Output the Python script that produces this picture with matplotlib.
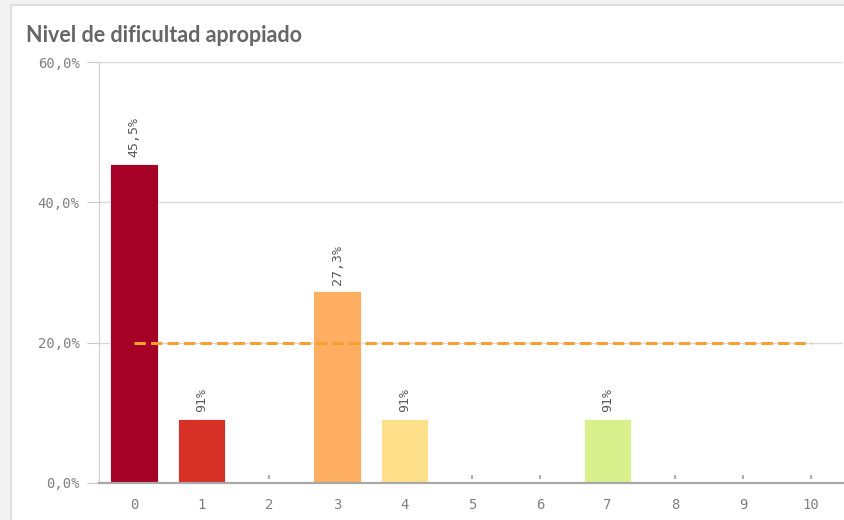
import matplotlib.pyplot as plt
from matplotlib.patches import Rectangle
from matplotlib.ticker import FuncFormatter
from matplotlib.transforms import offset_copy

# Data
categories = list(range(11))
values = [45.5, 9.1, 0, 27.3, 9.1, 0, 0, 9.1, 0, 0, 0]
bar_labels = ["45,5%", "91%", "", "27,3%", "91%", "", "", "91%", "", "", ""]
bar_colors = ["#a50026", "#d73027", "#f46d43", "#fdae61", "#fee08b",
              "#ffffbf", "#d9ef8b", "#d9ef8b", "#a6d96a", "#66bd63", "#1a9850"]
reference_value = 20.0
y_ticks = [0, 20, 40, 60]

mono = "DejaVu Sans Mono"
grey_text = "#808080"

fig = plt.figure(figsize=(8.45, 5.2), dpi=100)
fig.patch.set_facecolor("#f2f2f2")

# white card behind the chart
card = Rectangle((11 / 845, -0.05), 1.0, 1.05 - 5 / 520, transform=fig.transFigure,
                 facecolor="white", edgecolor="#dadada", linewidth=1.2, zorder=0)
fig.patches.append(card)

fig.text(26 / 845, 1 - 35 / 520, "Nivel de dificultad apropiado", fontsize=15.5,
         fontweight="bold", color="#666666", family="Lato", va="center", ha="left",
         zorder=2)

ax = fig.add_axes([99 / 845, 1 - 483 / 520, (843 - 99) / 845, (483 - 62) / 520])
ax.set_zorder(1)
ax.set_facecolor("none")

bars = ax.bar(categories, values, width=0.7, color=bar_colors,
              edgecolor="white", linewidth=0.6, zorder=2)

for b, lab in zip(bars, bar_labels):
    if lab:
        ax.annotate(lab, (b.get_x() + b.get_width() / 2, b.get_height()),
                    xytext=(0, 5), textcoords="offset points", rotation=90,
                    ha="center", va="bottom", fontsize=9.5, family=mono,
                    color="#5a5a5a")

# small tick marks floating just above the x axis (hidden behind bars)
tick_trans = offset_copy(ax.transData, fig=fig, y=6.5, units="dots")
ax.plot(categories, [0] * len(categories), ls="none", marker="|", markersize=3,
        markeredgewidth=1.2, color="#a0a0a0", transform=tick_trans, zorder=1)

# reference line at 20%
ax.plot([categories[0], categories[-1]], [reference_value, reference_value],
        color="#f7a032", linewidth=2.2, dashes=(3.7, 1.7), zorder=3)

ax.set_xlim(-0.52, 10.48)
ax.set_ylim(0, 60)
ax.set_yticks(y_ticks)
ax.yaxis.set_major_formatter(FuncFormatter(lambda v, p: f"{v:.1f}%".replace(".", ",")))
ax.set_xticks(categories)
ax.set_xticklabels([str(c) for c in categories])

ax.grid(axis="y", color="#d9d9d9", linewidth=1)
ax.set_axisbelow(True)

for s in ["top", "right"]:
    ax.spines[s].set_visible(False)
ax.spines["left"].set_color("#d0d0d0")
ax.spines["bottom"].set_color("#a8a8a8")
ax.spines["bottom"].set_linewidth(1.6)
ax.spines["bottom"].set_zorder(4)

ax.tick_params(axis="y", length=9, color="#c8c8c8", pad=5, labelsize=10,
               labelcolor=grey_text)
ax.tick_params(axis="x", length=0, pad=11, labelsize=10, labelcolor=grey_text)
for t in ax.get_xticklabels() + ax.get_yticklabels():
    t.set_family(mono)

fig.savefig("out.png", dpi=100, facecolor=fig.get_facecolor())
